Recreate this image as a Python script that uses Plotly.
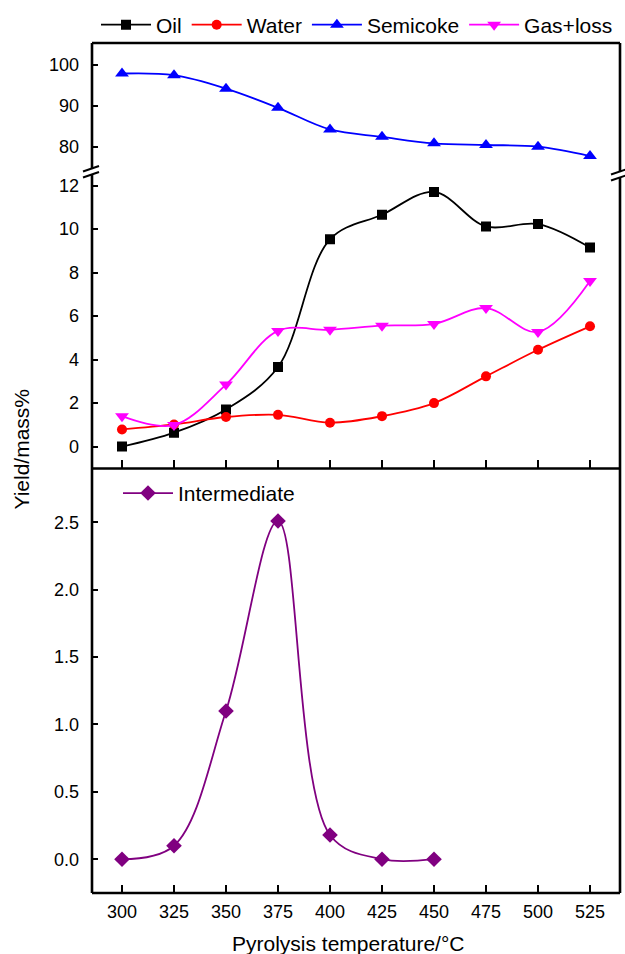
import plotly.graph_objects as go

temps = [300, 325, 350, 375, 400, 425, 450, 475, 500, 525]
oil = [0.0, 0.64, 1.71, 3.66, 9.53, 10.66, 11.71, 10.12, 10.23, 9.15]
water = [0.79, 1.02, 1.36, 1.46, 1.10, 1.40, 2.00, 3.23, 4.45, 5.53]
semicoke = [97.9, 97.5, 94.2, 89.5, 84.2, 82.4, 80.8, 80.4, 80.0, 77.7]
gas_loss = [1.40, 0.99, 2.85, 5.32, 5.37, 5.56, 5.64, 6.37, 5.27, 7.61]
inter_temps = [300, 325, 350, 375, 400, 425, 450]
intermediate = [0.0, 0.10, 1.10, 2.51, 0.18, 0.0, 0.0]

FONT = "Liberation Sans, Arial, Helvetica, sans-serif"
W, H = 625, 954
L, R, T, B = 92, 620, 40, 893
PW, PH = R - L, B - T


def fx(x):
    return (x - L) / PW


def fy(y):
    return (B - y) / PH


d_bot = [0, fy(467)]
d_mid = [fy(467), fy(170)]
d_top = [fy(170), 1]

fig = go.Figure()

series = [
    ("Oil", oil, "black", "square", 10, "y2", "x2"),
    ("Water", water, "red", "circle", 10, "y2", "x2"),
    ("Semicoke", semicoke, "blue", "triangle-up", 12, "y3", "x3"),
    ("Gas+loss", gas_loss, "magenta", "triangle-down", 12, "y2", "x2"),
]
for name, vals, col, sym, sz, ya, xa in series:
    fig.add_trace(go.Scatter(
        x=temps, y=vals, name=name, mode="lines+markers",
        line=dict(color=col, width=1.8, shape="spline", smoothing=1.0),
        marker=dict(color=col, symbol=sym, size=sz),
        xaxis=xa, yaxis=ya, legend="legend",
    ))

fig.add_trace(go.Scatter(
    x=inter_temps, y=intermediate, name="Intermediate", mode="lines+markers",
    line=dict(color="#800080", width=1.8, shape="spline", smoothing=1.0),
    marker=dict(color="#800080", symbol="diamond", size=12),
    xaxis="x", yaxis="y", legend="legend2",
))

xr = [300 - 30 / 2.08, 525 + 30 / 2.08]
tickfont = dict(family=FONT, size=18, color="black")

common_x = dict(range=xr, domain=[0, 1], showgrid=False, zeroline=False,
                tickvals=temps, ticks="inside", ticklen=8, tickwidth=2,
                tickcolor="black", showline=False)

fig.update_layout(
    width=W, height=H,
    margin=dict(l=L, r=W - R, t=T, b=H - B),
    paper_bgcolor="white", plot_bgcolor="white",
    font=dict(family=FONT, size=18, color="black"),
    xaxis=dict(**common_x, anchor="y", showticklabels=True, tickfont=tickfont,
               ticklabelstandoff=6),
    xaxis2=dict(**common_x, anchor="y2", matches="x", showticklabels=False),
    xaxis3=dict(range=xr, domain=[0, 1], anchor="y3", matches="x", showgrid=False,
                zeroline=False, showticklabels=False, ticks=""),
    yaxis=dict(domain=d_bot, range=[-0.251, 2.9], anchor="x",
               tickvals=[0, 0.5, 1.0, 1.5, 2.0, 2.5], tickformat=".1f",
               ticks="inside", ticklen=6, tickwidth=2, tickcolor="black",
               showgrid=False, zeroline=False, tickfont=tickfont, ticklabelstandoff=12),
    yaxis2=dict(domain=d_mid, range=[-1.007, 12.6], anchor="x2",
                tickvals=[0, 2, 4, 6, 8, 10, 12],
                ticks="inside", ticklen=6, tickwidth=2, tickcolor="black",
                showgrid=False, zeroline=False, tickfont=tickfont, ticklabelstandoff=12),
    yaxis3=dict(domain=d_top, range=[73.66, 105.37], anchor="x3",
                tickvals=[80, 90, 100],
                ticks="inside", ticklen=6, tickwidth=2, tickcolor="black",
                showgrid=False, zeroline=False, tickfont=tickfont, ticklabelstandoff=12),
    legend=dict(orientation="h", x=fx(96), xanchor="left", y=fy(22), yanchor="middle",
                font=dict(family=FONT, size=21, color="black"), itemwidth=50,
                bgcolor="rgba(0,0,0,0)", tracegroupgap=0),
    legend2=dict(orientation="h", x=fx(118), xanchor="left", y=fy(492), yanchor="middle",
                 font=dict(family=FONT, size=21, color="black"), itemwidth=50,
                 bgcolor="rgba(0,0,0,0)"),
    showlegend=True,
)

lw = 2.6
shapes = []
# frame
for (x0, y0, x1, y1) in [(0, 0, 0, 1), (1, 0, 1, 1), (0, 1, 1, 1), (0, 0, 1, 0),
                         (0, fy(467), 1, fy(467))]:
    shapes.append(dict(type="line", xref="paper", yref="paper", x0=x0, y0=y0, x1=x1, y1=y1,
                       line=dict(color="black", width=lw), layer="above"))
# axis breaks
for cx, dy in [(92, 0), (620, 3)]:
    shapes.append(dict(type="rect", xref="paper", yref="paper",
                       x0=fx(cx - 5), x1=fx(cx + 5), y0=fy(172.5 + dy), y1=fy(166.5 + dy),
                       fillcolor="white", line=dict(width=0), layer="above"))
    for off in (0, 6):
        shapes.append(dict(type="line", xref="paper", yref="paper",
                           x0=fx(cx - 9), y0=fy(169 + off + dy), x1=fx(cx + 7), y1=fy(163.5 + off + dy),
                           line=dict(color="black", width=2), layer="above"))
fig.update_layout(shapes=shapes)

fig.add_annotation(text="Pyrolysis temperature/°C", xref="paper", yref="paper",
                   x=fx(348), y=fy(944), xanchor="center", yanchor="middle",
                   showarrow=False, font=dict(family=FONT, size=21, color="black"))
fig.add_annotation(text="Yield/mass%", xref="paper", yref="paper",
                   x=fx(22), y=fy(448), xanchor="center", yanchor="middle", textangle=-90,
                   showarrow=False, font=dict(family=FONT, size=21, color="black"))

fig.write_html("out.html")
